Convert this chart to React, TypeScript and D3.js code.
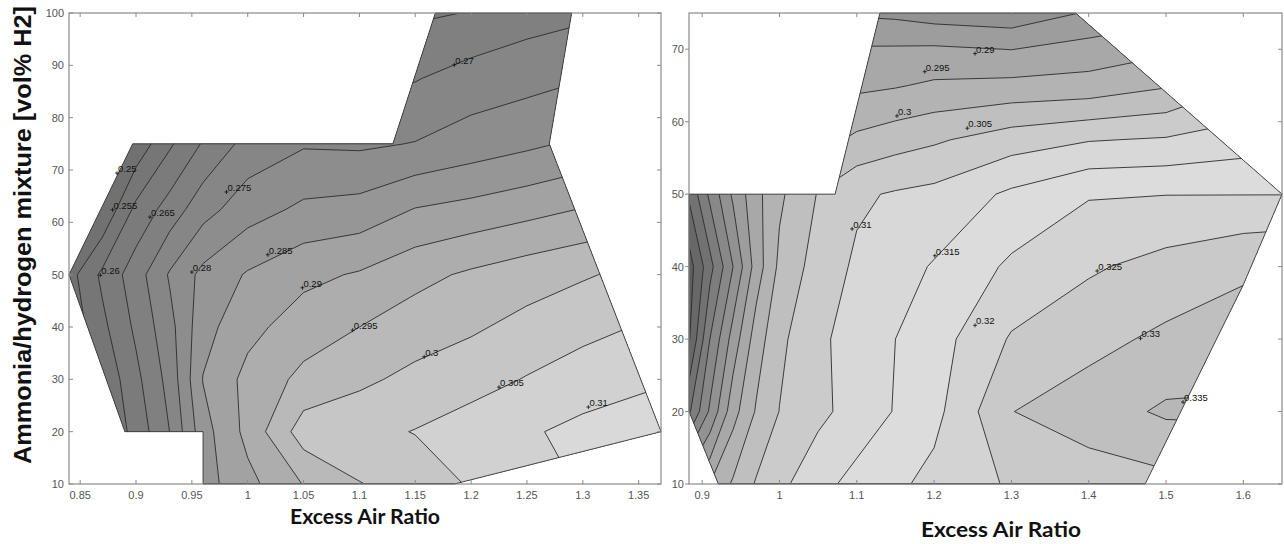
import React from "react";
import * as d3 from "d3";

// ---------------- LEFT PANEL DATA ----------------
const leftX = [0.84, 0.87, 0.9, 0.93, 0.96, 1.0, 1.05, 1.1, 1.15, 1.2, 1.25, 1.3, 1.37];
const leftY = [10, 20, 30, 40, 50, 62.5, 75, 87.5, 100];
const leftZ = [
  [0.245, 0.255, 0.263, 0.272, 0.283, 0.2885, 0.2952, 0.2998, 0.302, 0.3055, 0.3075, 0.3105, 0.312],
  [0.245, 0.255, 0.2618, 0.27, 0.283, 0.2915, 0.3025, 0.3035, 0.3052, 0.3075, 0.3094, 0.3113, 0.3128],
  [0.25, 0.256, 0.2637, 0.2717, 0.2852, 0.2915, 0.2963, 0.299, 0.3013, 0.303, 0.3053, 0.3075, 0.3095],
  [0.2515, 0.2588, 0.266, 0.2733, 0.2832, 0.2885, 0.2925, 0.295, 0.2975, 0.2993, 0.3015, 0.3035, 0.306],
  [0.253, 0.2611, 0.2677, 0.2755, 0.2814, 0.2855, 0.2887, 0.2905, 0.2935, 0.2958, 0.2978, 0.2995, 0.302],
  [0.245, 0.2505, 0.2613, 0.2671, 0.2731, 0.2778, 0.281, 0.2818, 0.2852, 0.2866, 0.2883, 0.2902, 0.2925],
  [0.24, 0.245, 0.2515, 0.2592, 0.2655, 0.2718, 0.2745, 0.2742, 0.2752, 0.2772, 0.279, 0.281, 0.2835],
  [0.24, 0.242, 0.246, 0.25, 0.256, 0.262, 0.266, 0.268, 0.2697, 0.2722, 0.2733, 0.2748, 0.277],
  [0.235, 0.237, 0.24, 0.244, 0.248, 0.254, 0.26, 0.262, 0.2642, 0.2652, 0.2678, 0.269, 0.27],
];
const leftLevels = [0.25, 0.255, 0.26, 0.265, 0.27, 0.275, 0.28, 0.285, 0.29, 0.295, 0.3, 0.305, 0.31];
const leftDomain: [number, number][] = [
  [0.84, 50], [0.897, 75], [1.13, 75], [1.168, 100], [1.29, 100], [1.27, 75],
  [1.37, 20], [1.185, 10], [0.96, 10], [0.96, 20], [0.89, 20],
];
const leftXTicks = [0.85, 0.9, 0.95, 1, 1.05, 1.1, 1.15, 1.2, 1.25, 1.3, 1.35];
const leftYTicks = [10, 20, 30, 40, 50, 60, 70, 80, 90, 100];
const leftLabels = [
  { t: "0.25", x: 0.883, y: 69.4 },
  { t: "0.255", x: 0.879, y: 62.4 },
  { t: "0.265", x: 0.9125, y: 61.0 },
  { t: "0.26", x: 0.868, y: 49.9 },
  { t: "0.275", x: 0.981, y: 65.8 },
  { t: "0.28", x: 0.95, y: 50.5 },
  { t: "0.285", x: 1.018, y: 53.8 },
  { t: "0.29", x: 1.049, y: 47.5 },
  { t: "0.295", x: 1.094, y: 39.4 },
  { t: "0.3", x: 1.158, y: 34.3 },
  { t: "0.305", x: 1.225, y: 28.5 },
  { t: "0.31", x: 1.305, y: 24.7 },
  { t: "0.27", x: 1.185, y: 90.1 },
];

// ---------------- RIGHT PANEL DATA ----------------
const rightX = [0.883, 0.91, 0.94, 0.97, 1.0, 1.05, 1.1, 1.15, 1.2, 1.3, 1.4, 1.5, 1.6, 1.65];
const rightY = [10, 20, 30, 40, 50, 57.5, 65, 70, 75];
const rightZ = [
  [0.289, 0.295, 0.3007, 0.3055, 0.3087, 0.3134, 0.3166, 0.319, 0.3215, 0.3256, 0.3275, 0.3285, 0.329, 0.329],
  [0.2692, 0.2808, 0.2931, 0.3005, 0.3051, 0.3087, 0.3121, 0.3153, 0.3185, 0.3299, 0.3325, 0.3358, 0.336, 0.336],
  [0.2594, 0.275, 0.2871, 0.2975, 0.3039, 0.3089, 0.3123, 0.315, 0.3178, 0.3255, 0.3285, 0.331, 0.332, 0.332],
  [0.2577, 0.2683, 0.28, 0.2923, 0.3011, 0.3072, 0.3108, 0.3131, 0.3154, 0.3209, 0.3243, 0.3268, 0.3293, 0.33],
  [0.2658, 0.2761, 0.2859, 0.2935, 0.2991, 0.3053, 0.3092, 0.3105, 0.3114, 0.3159, 0.3196, 0.3199, 0.3199, 0.3199],
  [0.26, 0.27, 0.28, 0.287, 0.292, 0.298, 0.3011, 0.3029, 0.3043, 0.3076, 0.3097, 0.3105, 0.3125, 0.3135],
  [0.255, 0.265, 0.275, 0.282, 0.287, 0.292, 0.2939, 0.2946, 0.2958, 0.2964, 0.2969, 0.2995, 0.305, 0.306],
  [0.25, 0.26, 0.27, 0.278, 0.284, 0.289, 0.2905, 0.2906, 0.2908, 0.2899, 0.292, 0.294, 0.299, 0.3],
  [0.245, 0.255, 0.265, 0.273, 0.279, 0.284, 0.2843, 0.2838, 0.2825, 0.2815, 0.2855, 0.288, 0.292, 0.293],
];
const rightLevels = [0.26, 0.265, 0.27, 0.275, 0.28, 0.285, 0.29, 0.295, 0.3, 0.305, 0.31, 0.315, 0.32, 0.325, 0.33, 0.335];
const rightDomain: [number, number][] = [
  [0.883, 50], [1.072, 50], [1.13, 75], [1.383, 75], [1.65, 50], [1.6, 37.5],
  [1.473, 10], [0.921, 10], [0.883, 20],
];
const rightXTicks = [0.9, 1, 1.1, 1.2, 1.3, 1.4, 1.5, 1.6];
const rightYTicks = [10, 20, 30, 40, 50, 60, 70];
const rightLabels = [
  { t: "0.29", x: 1.253, y: 69.4 },
  { t: "0.295", x: 1.188, y: 66.9 },
  { t: "0.3", x: 1.152, y: 60.8 },
  { t: "0.305", x: 1.243, y: 59.1 },
  { t: "0.31", x: 1.094, y: 45.2 },
  { t: "0.315", x: 1.201, y: 41.5 },
  { t: "0.32", x: 1.253, y: 31.9 },
  { t: "0.325", x: 1.411, y: 39.4 },
  { t: "0.33", x: 1.467, y: 30.1 },
  { t: "0.335", x: 1.522, y: 21.3 },
];

// band fills (grey levels as printed)
const leftColors = ["#6c6c6c", "#717171", "#767676", "#7b7b7b", "#808080", "#868686", "#8d8d8d", "#969696", "#a2a2a2", "#adadad", "#b9b9b9", "#c6c6c6", "#d1d1d1", "#d9d9d9"];
const rightColors = ["#5e5e5e", "#686868", "#727272", "#7d7d7d", "#888888", "#929292", "#9d9d9d", "#a8a8a8", "#b3b3b3", "#bfbfbf", "#cbcbcb", "#d8d8d8", "#dcdcdc", "#d3d3d3", "#c9c9c9", "#bfbfbf", "#b7b7b7"];

const fmt = (v: number) => String(Math.round(v * 100) / 100);

function mapIdx(arr: number[], c: number) {
  let u = c - 0.5;
  if (u < 0) u = 0;
  if (u > arr.length - 1) u = arr.length - 1;
  const k = Math.min(Math.floor(u), arr.length - 2);
  const f = u - k;
  return arr[k] + f * (arr[k + 1] - arr[k]);
}

type PanelProps = {
  id: string;
  X: number[]; Y: number[]; Z: number[][];
  levels: number[]; colors: string[];
  xDomain: [number, number]; yDomain: [number, number];
  xRange: [number, number]; yRange: [number, number];
  poly: [number, number][];
  xTicks: number[]; yTicks: number[];
  labels: { t: string; x: number; y: number }[];
  yTickOut: boolean;
};

function Panel(p: PanelProps) {
  const xs = d3.scaleLinear().domain(p.xDomain).range(p.xRange);
  const ys = d3.scaleLinear().domain(p.yDomain).range(p.yRange);
  const nx = p.X.length, ny = p.Y.length;
  const values: number[] = [];
  for (let j = 0; j < ny; j++) for (let i = 0; i < nx; i++) values.push(p.Z[j][i]);
  const contours = d3.contours().size([nx, ny]).thresholds(p.levels)(values);
  const X = p.X, Y = p.Y;
  const tr = d3.geoTransform({
    point: function (this: any, gx: number, gy: number) {
      this.stream.point(xs(mapIdx(X, gx)), ys(mapIdx(Y, gy)));
    },
  });
  const path = d3.geoPath(tr as any);
  const line = d3.line<[number, number]>().x((d) => xs(d[0])).y((d) => ys(d[1]));
  const polyD = line(p.poly) + "Z";
  const [x0, x1] = p.xRange;
  const [yb, yt] = p.yRange;
  const tickCol = "#8a8a8a";
  const tl = 4;
  return (
    <g>
      <defs>
        <clipPath id={p.id}>
          <path d={polyD} />
        </clipPath>
      </defs>
      <rect x={x0} y={yt} width={x1 - x0} height={yb - yt} fill="#ffffff" />
      <g clipPath={`url(#${p.id})`}>
        <rect x={x0} y={yt} width={x1 - x0} height={yb - yt} fill={p.colors[0]} />
        {contours.map((c, i) => (
          <path key={"f" + i} d={path(c as any) || ""} fill={p.colors[i + 1]} fillRule="evenodd" stroke="none" />
        ))}
        {contours.map((c, i) => (
          <path key={"l" + i} d={path(c as any) || ""} fill="none" stroke="#2b2b2b" strokeWidth={0.9} strokeLinejoin="round" />
        ))}
      </g>
      <path d={polyD} fill="none" stroke="#3a3a3a" strokeWidth={0.9} />
      {p.labels.map((l, i) => {
        const lx = xs(l.x), ly = ys(l.y);
        return (
          <g key={"lab" + i}>
            <path d={`M${lx - 2},${ly}H${lx + 2}M${lx},${ly - 2}V${ly + 2}`} stroke="#111" strokeWidth={0.8} />
            <text x={lx + 1} y={ly - 1} fontSize={9.5} fontFamily="Liberation Sans, Arial, sans-serif" fill="#111">{l.t}</text>
          </g>
        );
      })}
      {/* axes box */}
      <rect x={x0} y={yt} width={x1 - x0} height={yb - yt} fill="none" stroke={tickCol} strokeWidth={1.2} />
      {p.xTicks.map((v, i) => (
        <g key={"xt" + i}>
          <line x1={xs(v)} x2={xs(v)} y1={yb} y2={yb - tl} stroke={tickCol} strokeWidth={1} />
          <line x1={xs(v)} x2={xs(v)} y1={yt} y2={yt + tl} stroke={tickCol} strokeWidth={1} />
          <text x={xs(v)} y={yb + 15} textAnchor="middle" fontSize={11} fontFamily="Liberation Sans, Arial, sans-serif" fill="#555">{fmt(v)}</text>
        </g>
      ))}
      {p.yTicks.map((v, i) => (
        <g key={"yt" + i}>
          {p.yTickOut ? (
            <line x1={x0 - tl} x2={x0} y1={ys(v)} y2={ys(v)} stroke={tickCol} strokeWidth={1} />
          ) : (
            <line x1={x0} x2={x0 + tl} y1={ys(v)} y2={ys(v)} stroke={tickCol} strokeWidth={1} />
          )}
          <line x1={x1} x2={x1 - tl} y1={ys(v)} y2={ys(v)} stroke={tickCol} strokeWidth={1} />
          <text x={x0 - 5} y={ys(v) + 4} textAnchor="end" fontSize={11} fontFamily="Liberation Sans, Arial, sans-serif" fill="#555">{fmt(v)}</text>
        </g>
      ))}
    </g>
  );
}

export default function App() {
  return (
    <svg width={1284} height={544} style={{ position: "absolute", left: 0, top: 0, background: "#fff" }} xmlns="http://www.w3.org/2000/svg">
      <rect x={0} y={0} width={1284} height={544} fill="#ffffff" />
      <Panel
        id="clipL" X={leftX} Y={leftY} Z={leftZ} levels={leftLevels} colors={leftColors}
        xDomain={[0.84, 1.37]} yDomain={[10, 100]} xRange={[69, 661]} yRange={[484, 13]}
        poly={leftDomain} xTicks={leftXTicks} yTicks={leftYTicks} labels={leftLabels} yTickOut={false}
      />
      <Panel
        id="clipR" X={rightX} Y={rightY} Z={rightZ} levels={rightLevels} colors={rightColors}
        xDomain={[0.883, 1.65]} yDomain={[10, 75]} xRange={[689, 1282]} yRange={[484, 13]}
        poly={rightDomain} xTicks={rightXTicks} yTicks={rightYTicks} labels={rightLabels} yTickOut={true}
      />
      <text transform="translate(31,235) rotate(-90)" textAnchor="middle" fontSize={23} fontWeight="bold"
        fontFamily="Liberation Sans, Arial, sans-serif" fill="#111" textLength={458} lengthAdjust="spacingAndGlyphs">
        Ammonia/hydrogen mixture [vol% H2]
      </text>
      <text x={365} y={524} textAnchor="middle" fontSize={20} fontWeight="bold" fontFamily="Lato, Open Sans, sans-serif"
        fill="#111" textLength={150} lengthAdjust="spacingAndGlyphs">Excess Air Ratio</text>
      <text x={1001} y={537} textAnchor="middle" fontSize={20} fontWeight="bold" fontFamily="Lato, Open Sans, sans-serif"
        fill="#111" textLength={160} lengthAdjust="spacingAndGlyphs">Excess Air Ratio</text>
    </svg>
  );
}
